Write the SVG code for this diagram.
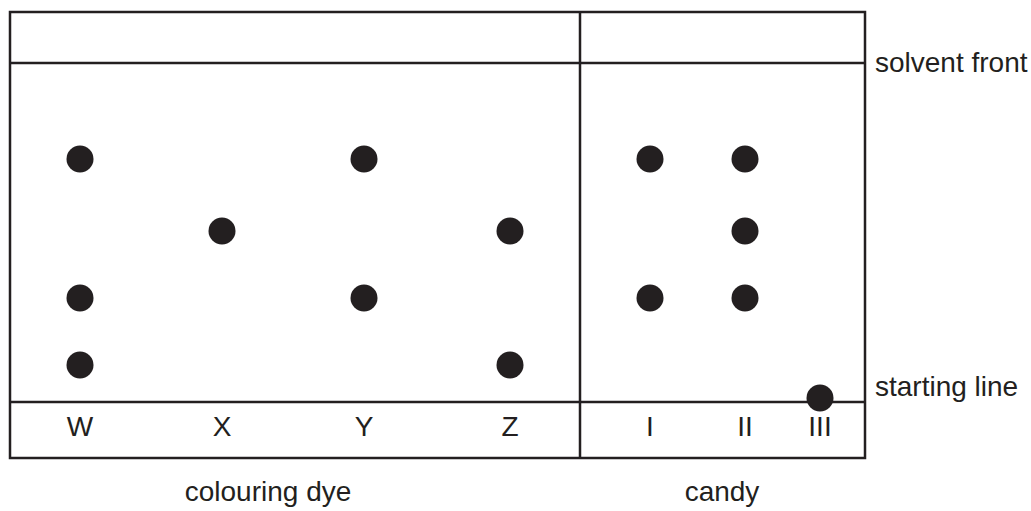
<svg xmlns="http://www.w3.org/2000/svg" width="1031" height="511" viewBox="0 0 1031 511">
<style>
.ln{stroke:#231f20;stroke-width:2.5;fill:none}
.dot{fill:#231f20}
.t{font-family:"Liberation Sans",Arial,sans-serif;font-size:28px;fill:#231f20}
.c{text-anchor:middle}
</style>
<rect width="1031" height="511" fill="#fff"/>
<g id="frame">
<rect class="ln" x="10" y="12" width="855" height="446"/>
<line class="ln" x1="10" y1="63" x2="865" y2="63"/>
<line class="ln" x1="10" y1="402" x2="865" y2="402"/>
<line class="ln" x1="580" y1="12" x2="580" y2="458"/>
</g>
<g id="dyeW"><circle class="dot" cx="80" cy="159" r="13.5"/><circle class="dot" cx="80" cy="298" r="13.5"/><circle class="dot" cx="80" cy="365" r="13.5"/><text class="t c" x="80" y="436">W</text></g>
<g id="dyeX"><circle class="dot" cx="222" cy="231" r="13.5"/><text class="t c" x="222" y="436">X</text></g>
<g id="dyeY"><circle class="dot" cx="364" cy="159" r="13.5"/><circle class="dot" cx="364" cy="298" r="13.5"/><text class="t c" x="364" y="436">Y</text></g>
<g id="dyeZ"><circle class="dot" cx="510" cy="231" r="13.5"/><circle class="dot" cx="510" cy="365" r="13.5"/><text class="t c" x="510" y="436">Z</text></g>
<g id="candyI"><circle class="dot" cx="650" cy="159" r="13.5"/><circle class="dot" cx="650" cy="298" r="13.5"/><text class="t c" x="650" y="436">I</text></g>
<g id="candyII"><circle class="dot" cx="745" cy="159" r="13.5"/><circle class="dot" cx="745" cy="231" r="13.5"/><circle class="dot" cx="745" cy="298" r="13.5"/><text class="t c" x="745" y="436">II</text></g>
<g id="candyIII"><circle class="dot" cx="820" cy="398" r="13.5"/><text class="t c" x="820" y="436">III</text></g>
<g id="labels">
<text class="t" x="875" y="72">solvent front</text>
<text class="t" x="875" y="396">starting line</text>
<text class="t c" x="268" y="501">colouring dye</text>
<text class="t c" x="722" y="501">candy</text>
</g>
<g id="connectors"></g>
</svg>
